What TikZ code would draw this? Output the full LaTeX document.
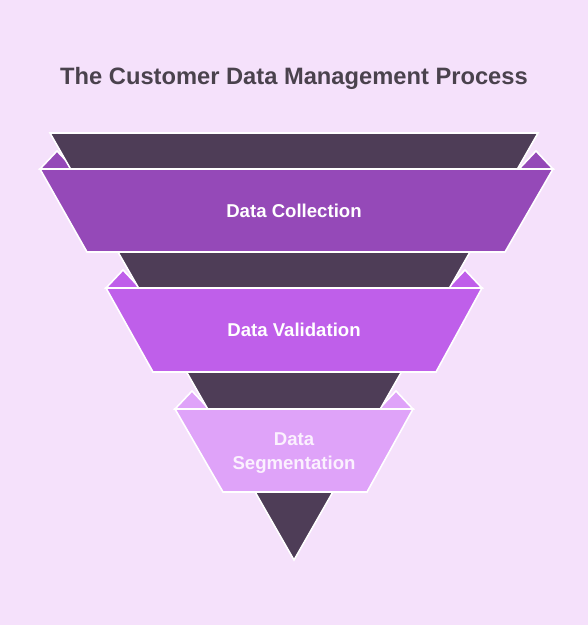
\documentclass[tikz,border=0pt]{standalone}
\usepackage{fontspec}
\setmainfont{Liberation Sans}
\definecolor{bgc}{HTML}{F5E1FB}
\definecolor{darkc}{HTML}{4E3D57}
\definecolor{bandA}{HTML}{9549B8}
\definecolor{bandB}{HTML}{BF5FEA}
\definecolor{bandC}{HTML}{DFA3F9}
\definecolor{titlec}{HTML}{4A424D}
\definecolor{txtC}{HTML}{FBF1FE}
\tikzset{
  shp/.style={draw=white,line width=1.6pt,line join=miter},
  lbl/.style={font=\bfseries\fontsize{18.6}{24}\selectfont,align=center,inner sep=0pt},
}
\begin{document}
\begin{tikzpicture}[x=1pt,y=-1pt]
\fill[bgc] (0,0) rectangle (588,625);
\useasboundingbox (0,0) rectangle (588,625);
\node[font=\bfseries\fontsize{23.7}{26}\selectfont,text=titlec,inner sep=0pt] (title) at (294,78) {The Customer Data Management Process};
% flaps
\foreach \tl/\tr/\ty/\c in {40/553/169/bandA,106/482/288/bandB,175/413/409/bandC}{
  \filldraw[shp,fill=\c] (\tl,\ty) -- (\tl+17,\ty-18) -- (\tl+34,\ty) -- cycle;
  \filldraw[shp,fill=\c] (\tr,\ty) -- (\tr-17,\ty-18) -- (\tr-34,\ty) -- cycle;
}
% funnel
\filldraw[shp,fill=darkc] (50,133) -- (538,133) -- (294,560) -- cycle;
% bands
\filldraw[shp,fill=bandA] (40,169) -- (553,169) -- (505,252) -- (87,252) -- cycle;
\filldraw[shp,fill=bandB] (106,288) -- (482,288) -- (436,372) -- (153,372) -- cycle;
\filldraw[shp,fill=bandC] (175,409) -- (413,409) -- (367,492) -- (223,492) -- cycle;
\node[lbl,text=white] (b1) at (294,211) {Data Collection};
\node[lbl,text=white] (b2) at (294,330) {Data Validation};
\node[lbl,text=txtC] (b3) at (294,453) {Data\\Segmentation};
\end{tikzpicture}
\end{document}
